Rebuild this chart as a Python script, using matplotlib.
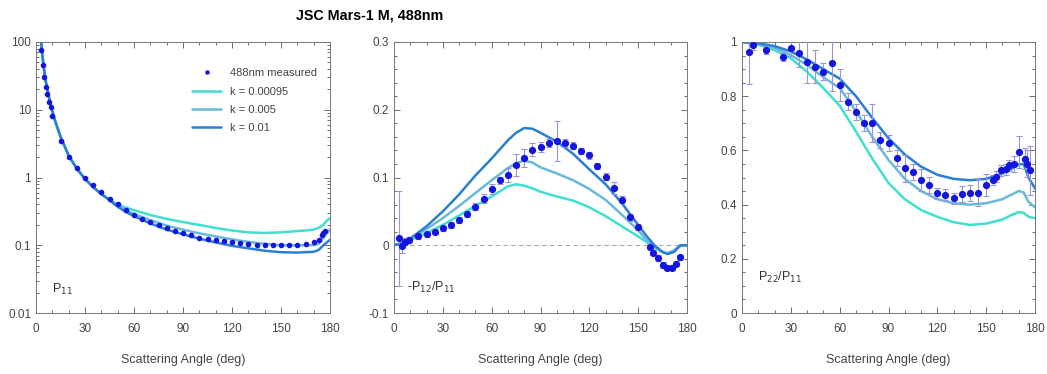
import matplotlib
matplotlib.use("Agg")
import matplotlib.pyplot as plt
from matplotlib.ticker import FixedLocator, MultipleLocator, LogLocator, NullFormatter

plt.rcParams['font.family'] = ['Liberation Sans Narrow', 'Liberation Sans', 'DejaVu Sans']

# ---------------- data ----------------
# Panel 1: P11 (log)
ang1 = [3, 4, 5, 6, 7, 8, 9, 10, 15, 20, 25, 30, 35, 40, 45, 50, 55, 60, 65, 70, 75, 80,
        85, 90, 95, 100, 105, 110, 115, 120, 125, 130, 135, 140, 145, 150, 155, 160, 165,
        170, 173, 175, 176, 177]
p11_meas = [75, 45, 30, 22, 17, 13, 11, 8, 3.5, 2.0, 1.4, 1.0, 0.78, 0.62, 0.48, 0.40, 0.33,
            0.28, 0.24, 0.22, 0.20, 0.18, 0.165, 0.15, 0.14, 0.13, 0.125, 0.12, 0.115, 0.11,
            0.107, 0.104, 0.102, 0.10, 0.10, 0.10, 0.10, 0.10, 0.105, 0.11, 0.12, 0.14, 0.15, 0.16]

ang1_model = [2, 3, 4, 5, 6, 8, 10, 12, 15, 20, 25, 30, 35, 40, 45, 50, 55, 60, 70, 80, 90,
              100, 110, 120, 130, 140, 150, 160, 165, 170, 173, 176, 178, 180]
p11_k00095 = [200, 110, 60, 38, 26, 15, 9.5, 6.5, 4.0, 2.1, 1.35, 0.95, 0.72, 0.57, 0.47, 0.40,
              0.36, 0.33, 0.28, 0.245, 0.22, 0.20, 0.18, 0.165, 0.155, 0.152, 0.155, 0.162,
              0.165, 0.17, 0.18, 0.20, 0.23, 0.25]
p11_k005 = [200, 110, 60, 38, 26, 15, 9.5, 6.5, 4.0, 2.1, 1.35, 0.95, 0.72, 0.57, 0.47, 0.39,
            0.33, 0.29, 0.235, 0.195, 0.17, 0.15, 0.135, 0.122, 0.112, 0.105, 0.10, 0.10,
            0.10, 0.10, 0.105, 0.13, 0.15, 0.17]
p11_k01 = [200, 110, 60, 38, 26, 15, 9.5, 6.5, 4.0, 2.1, 1.35, 0.95, 0.72, 0.57, 0.46, 0.37,
           0.31, 0.27, 0.21, 0.17, 0.145, 0.125, 0.11, 0.098, 0.09, 0.083, 0.079, 0.078,
           0.079, 0.08, 0.085, 0.10, 0.11, 0.12]

# Panel 2: -P12/P11
ang2 = [3, 5, 7, 9, 15, 20, 25, 30, 35, 40, 45, 50, 55, 60, 65, 70, 75, 80, 85, 90, 95, 100,
        105, 110, 115, 120, 125, 130, 135, 140, 145, 150, 157, 159, 162, 165, 168, 171, 173, 176]
p12_meas = [0.010, -0.001, 0.005, 0.008, 0.013, 0.016, 0.020, 0.025, 0.030, 0.037, 0.046,
            0.057, 0.069, 0.083, 0.096, 0.104, 0.118, 0.129, 0.141, 0.145, 0.151, 0.154,
            0.151, 0.147, 0.139, 0.133, 0.117, 0.101, 0.085, 0.067, 0.041, 0.027, -0.002,
            -0.011, -0.019, -0.029, -0.033, -0.033, -0.027, -0.018]
p12_err = [0.07, 0.01, 0.005, 0.004, 0.004, 0.004, 0.004, 0.004, 0.004, 0.004, 0.004, 0.005,
           0.006, 0.008, 0.005, 0.01, 0.016, 0.013, 0.01, 0.008, 0.006, 0.029, 0.006, 0.005,
           0.005, 0.005, 0.005, 0.005, 0.009, 0.005, 0.005, 0.004, 0.004, 0.004, 0.004,
           0.004, 0.004, 0.004, 0.004, 0.004]

ang2_model = [0, 5, 10, 20, 30, 40, 50, 60, 70, 75, 80, 85, 90, 100, 110, 120, 130, 140, 150,
              155, 160, 165, 168, 172, 176, 180]
p12_k00095 = [0, 0.003, 0.008, 0.018, 0.030, 0.044, 0.058, 0.072, 0.087, 0.090, 0.088, 0.084,
              0.079, 0.072, 0.066, 0.056, 0.043, 0.028, 0.013, 0.005, -0.004, -0.010, -0.012,
              -0.008, 0, 0]
p12_k005 = [0, 0.003, 0.009, 0.024, 0.040, 0.058, 0.077, 0.096, 0.114, 0.121, 0.125, 0.122,
            0.115, 0.106, 0.096, 0.083, 0.067, 0.045, 0.022, 0.008, -0.003, -0.010, -0.012,
            -0.008, 0, 0]
p12_k01 = [0, 0.003, 0.010, 0.028, 0.050, 0.075, 0.103, 0.128, 0.155, 0.166, 0.173, 0.172,
           0.166, 0.153, 0.135, 0.112, 0.090, 0.062, 0.030, 0.014, 0.0, -0.010, -0.013,
           -0.010, 0, 0]

# Panel 3: P22/P11
ang3 = [4, 7, 15, 25, 30, 35, 40, 45, 50, 55, 60, 65, 70, 75, 80, 85, 90, 95, 100, 105, 110,
        115, 120, 125, 130, 135, 140, 145, 150, 154, 156, 159, 162, 164, 167, 170, 174, 175, 177]
p22_meas = [0.964, 0.989, 0.970, 0.946, 0.977, 0.958, 0.928, 0.909, 0.891, 0.921, 0.841,
            0.780, 0.743, 0.700, 0.700, 0.638, 0.626, 0.571, 0.534, 0.521, 0.491, 0.472,
            0.442, 0.436, 0.423, 0.438, 0.444, 0.444, 0.472, 0.491, 0.503, 0.527, 0.530,
            0.545, 0.551, 0.594, 0.570, 0.551, 0.527]
p22_err = [0.12, 0.02, 0.015, 0.015, 0.03, 0.05, 0.08, 0.06, 0.03, 0.1, 0.06, 0.03, 0.03,
           0.03, 0.07, 0.03, 0.03, 0.03, 0.05, 0.03, 0.04, 0.03, 0.02, 0.02, 0.02, 0.03,
           0.03, 0.05, 0.04, 0.02, 0.02, 0.02, 0.02, 0.02, 0.03, 0.06, 0.04, 0.05, 0.09]

ang3_model = [0, 10, 20, 30, 40, 50, 60, 70, 80, 90, 100, 110, 120, 130, 140, 150, 160, 165,
              170, 173, 176, 180]
p22_k00095 = [1.0, 0.99, 0.97, 0.94, 0.89, 0.83, 0.765, 0.67, 0.57, 0.48, 0.42, 0.38, 0.355,
              0.335, 0.325, 0.33, 0.345, 0.36, 0.372, 0.37, 0.355, 0.35]
p22_k005 = [1.0, 0.993, 0.978, 0.952, 0.915, 0.87, 0.83, 0.745, 0.65, 0.565, 0.495, 0.45,
            0.42, 0.405, 0.40, 0.405, 0.42, 0.435, 0.45, 0.445, 0.41, 0.39]
p22_k01 = [1.0, 0.995, 0.985, 0.965, 0.935, 0.90, 0.865, 0.80, 0.72, 0.645, 0.585, 0.54,
           0.51, 0.495, 0.49, 0.495, 0.515, 0.53, 0.548, 0.55, 0.50, 0.46]

labels = ['k = 0.00095', 'k = 0.005', 'k = 0.01']
colors = ['#3FE0CF', '#6BB9DA', '#2A7FD0']
pt_color = '#1515E0'
err_color = '#9A95D8'
xticks = [0, 30, 60, 90, 120, 150, 180]

# ---------------- figure ----------------
fig = plt.figure(figsize=(10.47, 3.74), dpi=100)
W, H = 1047, 374
def ax_at(left, right, top=42, bottom=313):
    return fig.add_axes([left / W, 1 - bottom / H, (right - left) / W, (bottom - top) / H])

ax1 = ax_at(36, 330)
ax2 = ax_at(394, 687)
ax3 = ax_at(742, 1035)

tick_col = '#555555'
for ax in (ax1, ax2, ax3):
    ax.set_xlim(0, 180)
    ax.xaxis.set_major_locator(FixedLocator(xticks))
    ax.xaxis.set_minor_locator(MultipleLocator(10))
    ax.tick_params(which='both', direction='in', top=True, right=True, colors=tick_col,
                   labelcolor='#444444', labelsize=8.5, width=0.6)
    ax.tick_params(which='major', length=4)
    ax.tick_params(which='minor', length=2)
    ax.tick_params(axis='x', pad=7)
    for s in ax.spines.values():
        s.set_color('#777777')
        s.set_linewidth(0.7)
    ax.set_xlabel('Scattering Angle (deg)', fontsize=9, color='#444444', labelpad=14)

# Panel 1
ax1.set_yscale('log')
ax1.set_ylim(0.01, 100)
ax1.set_yticks([0.01, 0.1, 1, 10, 100])
ax1.set_yticklabels(['0.01', '0.1', '1', '10', '100'])
ax1.yaxis.set_minor_locator(LogLocator(base=10, subs=range(2, 10)))
ax1.yaxis.set_minor_formatter(NullFormatter())
for m, c, l in zip([p11_k00095, p11_k005, p11_k01], colors, labels):
    ax1.plot(ang1_model, m, color=c, lw=1.8, label=l, solid_capstyle='round')
ax1.plot(ang1, p11_meas, 'o', color=pt_color, ms=3.0, label='488nm measured', zorder=5)
h, lab = ax1.get_legend_handles_labels()
order = [3, 0, 1, 2]
ax1.legend([h[i] for i in order], [lab[i] for i in order], loc='upper right',
           bbox_to_anchor=(0.99, 0.94), frameon=False, fontsize=8, labelcolor='#444444',
           handlelength=2.6, labelspacing=0.75, markerscale=0.75)
ax1.text(10, 0.02, 'P$_{11}$', fontsize=9, color='#333333')

# Panel 2
ax2.set_ylim(-0.1, 0.3)
ax2.set_yticks([-0.1, 0, 0.1, 0.2, 0.3])
ax2.set_yticklabels(['-0.1', '0', '0.1', '0.2', '0.3'])
ax2.yaxis.set_minor_locator(MultipleLocator(0.02))
ax2.axhline(0, color='#AAAAAA', lw=0.8, ls=(0, (4, 3)))
for m, c, l in zip([p12_k00095, p12_k005, p12_k01], colors, labels):
    ax2.plot(ang2_model, m, color=c, lw=1.8)
ax2.errorbar(ang2, p12_meas, yerr=p12_err, fmt='o', color=pt_color, ms=4.2,
             ecolor=err_color, elinewidth=0.8, capsize=2, capthick=0.8, zorder=5)
ax2.text(8, -0.068, '-P$_{12}$/P$_{11}$', fontsize=9, color='#333333')

# Panel 3
ax3.set_ylim(0, 1)
ax3.set_yticks([0, 0.2, 0.4, 0.6, 0.8, 1])
ax3.set_yticklabels(['0', '0.2', '0.4', '0.6', '0.8', '1'])
ax3.yaxis.set_minor_locator(MultipleLocator(0.05))
for m, c, l in zip([p22_k00095, p22_k005, p22_k01], colors, labels):
    ax3.plot(ang3_model, m, color=c, lw=1.8)
ax3.errorbar(ang3, p22_meas, yerr=p22_err, fmt='o', color=pt_color, ms=4.2,
             ecolor=err_color, elinewidth=0.8, capsize=2, capthick=0.8, zorder=5)
ax3.text(10, 0.12, 'P$_{22}$/P$_{11}$', fontsize=9, color='#333333')

fig.text(370 / W, 1 - 16 / H, 'JSC Mars-1 M, 488nm', ha='center', va='center',
         fontsize=10.3, fontweight='bold', family=['Liberation Sans', 'DejaVu Sans'])

fig.savefig('out.png', dpi=100)
